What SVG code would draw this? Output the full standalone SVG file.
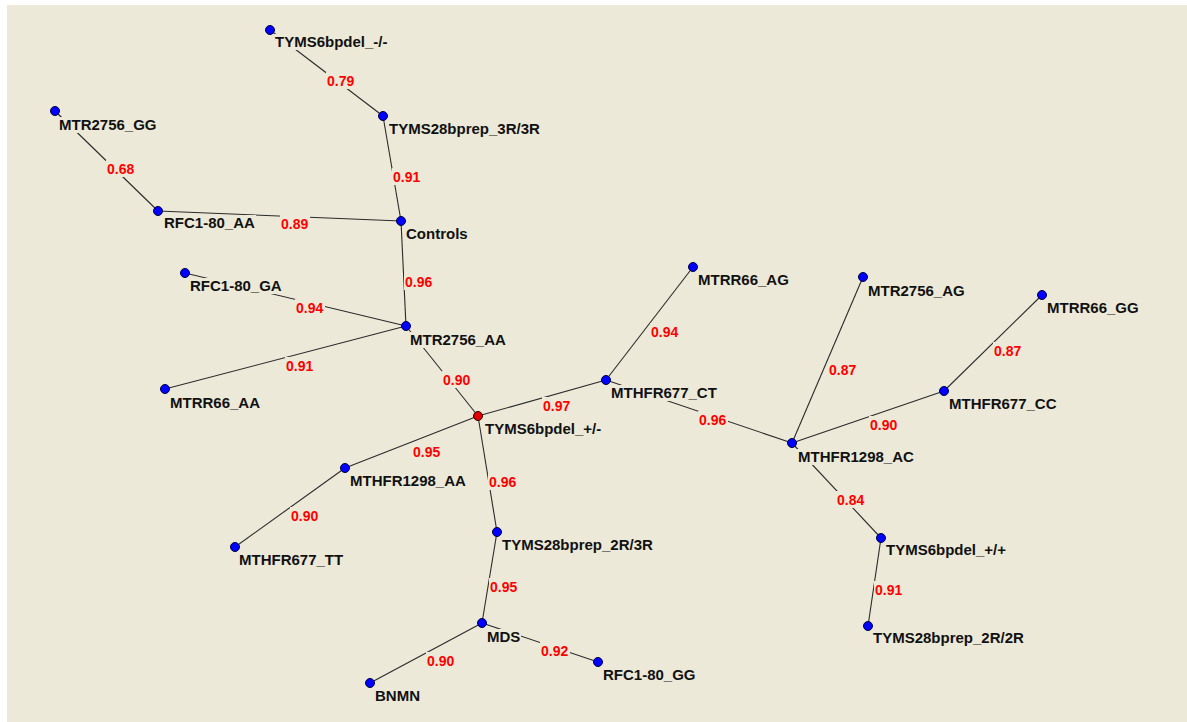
<svg xmlns="http://www.w3.org/2000/svg" width="1187" height="722" viewBox="0 0 1187 722">
<style>
.edge{stroke:#2a2a2a;stroke-width:1.1;fill:none}
.bg{fill:#ECE9D8}
.nd{fill:#0000FF;stroke:#00003c;stroke-width:1}
.ndr{fill:#E00000;stroke:#300000;stroke-width:1}
.lbl{font-family:"Liberation Sans",Arial,sans-serif;font-size:15px;font-weight:bold;fill:#111}
.w{font-family:"Liberation Sans",Arial,sans-serif;font-size:14px;font-weight:bold;fill:#FF0000}
</style>
<rect x="0" y="0" width="1187" height="722" fill="#FFFFFF"/>
<rect x="7" y="5" width="1180" height="717" class="bg"/>
<g id="connectors">
<line class="edge" x1="270" y1="30" x2="383" y2="116"/>
<line class="edge" x1="383" y1="116" x2="401" y2="221"/>
<line class="edge" x1="55" y1="111" x2="158" y2="211"/>
<line class="edge" x1="158" y1="211" x2="401" y2="221"/>
<line class="edge" x1="401" y1="221" x2="406" y2="326"/>
<line class="edge" x1="185" y1="273" x2="406" y2="326"/>
<line class="edge" x1="165" y1="389" x2="406" y2="326"/>
<line class="edge" x1="406" y1="326" x2="478" y2="416"/>
<line class="edge" x1="478" y1="416" x2="606" y2="380"/>
<line class="edge" x1="606" y1="380" x2="693" y2="267"/>
<line class="edge" x1="606" y1="380" x2="792" y2="443"/>
<line class="edge" x1="792" y1="443" x2="863" y2="277"/>
<line class="edge" x1="792" y1="443" x2="944" y2="391"/>
<line class="edge" x1="944" y1="391" x2="1042" y2="295"/>
<line class="edge" x1="792" y1="443" x2="881" y2="538"/>
<line class="edge" x1="881" y1="538" x2="868" y2="626"/>
<line class="edge" x1="478" y1="416" x2="345" y2="468"/>
<line class="edge" x1="345" y1="468" x2="235" y2="547"/>
<line class="edge" x1="478" y1="416" x2="497" y2="532"/>
<line class="edge" x1="497" y1="532" x2="482" y2="623"/>
<line class="edge" x1="482" y1="623" x2="370" y2="683"/>
<line class="edge" x1="482" y1="623" x2="598" y2="662"/>
<g id="edge-labels">
<rect class="bg" x="326" y="72" width="30" height="17"/><text class="w" x="327" y="86">0.79</text>
<rect class="bg" x="392" y="168" width="30" height="17"/><text class="w" x="393" y="182">0.91</text>
<rect class="bg" x="106" y="160" width="30" height="17"/><text class="w" x="107" y="174">0.68</text>
<rect class="bg" x="280" y="215" width="30" height="17"/><text class="w" x="281" y="229">0.89</text>
<rect class="bg" x="404" y="273" width="30" height="17"/><text class="w" x="405" y="287">0.96</text>
<rect class="bg" x="295" y="299" width="30" height="17"/><text class="w" x="296" y="313">0.94</text>
<rect class="bg" x="285" y="357" width="30" height="17"/><text class="w" x="286" y="371">0.91</text>
<rect class="bg" x="442" y="371" width="30" height="17"/><text class="w" x="443" y="385">0.90</text>
<rect class="bg" x="542" y="397" width="30" height="17"/><text class="w" x="543" y="411">0.97</text>
<rect class="bg" x="650" y="323" width="30" height="17"/><text class="w" x="651" y="337">0.94</text>
<rect class="bg" x="698" y="411" width="30" height="17"/><text class="w" x="699" y="425">0.96</text>
<rect class="bg" x="828" y="361" width="30" height="17"/><text class="w" x="829" y="375">0.87</text>
<rect class="bg" x="869" y="416" width="30" height="17"/><text class="w" x="870" y="430">0.90</text>
<rect class="bg" x="993" y="342" width="30" height="17"/><text class="w" x="994" y="356">0.87</text>
<rect class="bg" x="836" y="491" width="30" height="17"/><text class="w" x="837" y="505">0.84</text>
<rect class="bg" x="874" y="581" width="30" height="17"/><text class="w" x="875" y="595">0.91</text>
<rect class="bg" x="412" y="443" width="30" height="17"/><text class="w" x="413" y="457">0.95</text>
<rect class="bg" x="290" y="507" width="30" height="17"/><text class="w" x="291" y="521">0.90</text>
<rect class="bg" x="488" y="473" width="30" height="17"/><text class="w" x="489" y="487">0.96</text>
<rect class="bg" x="489" y="578" width="30" height="17"/><text class="w" x="490" y="592">0.95</text>
<rect class="bg" x="426" y="652" width="30" height="17"/><text class="w" x="427" y="666">0.90</text>
<rect class="bg" x="540" y="642" width="30" height="17"/><text class="w" x="541" y="656">0.92</text>
</g>
</g>
<g id="n_tyms6_mm"><rect class="bg" x="274" y="34" width="115" height="16"/><text class="lbl" x="275" y="47">TYMS6bpdel_-/-</text><circle class="nd" cx="270" cy="30" r="4.5"/></g>
<g id="n_tyms28_3r3r"><rect class="bg" x="388" y="121" width="154" height="16"/><text class="lbl" x="389" y="134">TYMS28bprep_3R/3R</text><circle class="nd" cx="383" cy="116" r="4.5"/></g>
<g id="n_mtr2756_gg"><rect class="bg" x="58" y="117" width="100" height="16"/><text class="lbl" x="59" y="130">MTR2756_GG</text><circle class="nd" cx="55" cy="111" r="4.5"/></g>
<g id="n_rfc1_aa"><rect class="bg" x="163" y="215" width="93" height="16"/><text class="lbl" x="164" y="228">RFC1-80_AA</text><circle class="nd" cx="158" cy="211" r="4.5"/></g>
<g id="n_controls"><rect class="bg" x="405" y="226" width="64" height="16"/><text class="lbl" x="406" y="239">Controls</text><circle class="nd" cx="401" cy="221" r="4.5"/></g>
<g id="n_rfc1_ga"><rect class="bg" x="189" y="278" width="93" height="16"/><text class="lbl" x="190" y="291">RFC1-80_GA</text><circle class="nd" cx="185" cy="273" r="4.5"/></g>
<g id="n_mtr2756_aa"><rect class="bg" x="409" y="332" width="98" height="16"/><text class="lbl" x="410" y="345">MTR2756_AA</text><circle class="nd" cx="406" cy="326" r="4.5"/></g>
<g id="n_mtrr66_aa"><rect class="bg" x="169" y="395" width="92" height="16"/><text class="lbl" x="170" y="408">MTRR66_AA</text><circle class="nd" cx="165" cy="389" r="4.5"/></g>
<g id="n_tyms6_pm"><rect class="bg" x="484" y="421" width="118" height="16"/><text class="lbl" x="485" y="434">TYMS6bpdel_+/-</text><circle class="ndr" cx="478" cy="416" r="4.5"/></g>
<g id="n_mthfr677_ct"><rect class="bg" x="610" y="385" width="109" height="16"/><text class="lbl" x="611" y="398">MTHFR677_CT</text><circle class="nd" cx="606" cy="380" r="4.5"/></g>
<g id="n_mtrr66_ag"><rect class="bg" x="697" y="272" width="93" height="16"/><text class="lbl" x="698" y="285">MTRR66_AG</text><circle class="nd" cx="693" cy="267" r="4.5"/></g>
<g id="n_mthfr1298_aa"><rect class="bg" x="349" y="473" width="118" height="16"/><text class="lbl" x="350" y="486">MTHFR1298_AA</text><circle class="nd" cx="345" cy="468" r="4.5"/></g>
<g id="n_mthfr677_tt"><rect class="bg" x="238" y="552" width="108" height="16"/><text class="lbl" x="239" y="565">MTHFR677_TT</text><circle class="nd" cx="235" cy="547" r="4.5"/></g>
<g id="n_tyms28_2r3r"><rect class="bg" x="501" y="537" width="156" height="16"/><text class="lbl" x="502" y="550">TYMS28bprep_2R/3R</text><circle class="nd" cx="497" cy="532" r="4.5"/></g>
<g id="n_mds"><rect class="bg" x="486" y="629" width="35" height="16"/><text class="lbl" x="487" y="642">MDS</text><circle class="nd" cx="482" cy="623" r="4.5"/></g>
<g id="n_bnmn"><rect class="bg" x="374" y="688" width="47" height="16"/><text class="lbl" x="375" y="701">BNMN</text><circle class="nd" cx="370" cy="683" r="4.5"/></g>
<g id="n_rfc1_gg"><rect class="bg" x="602" y="667" width="93" height="16"/><text class="lbl" x="603" y="680">RFC1-80_GG</text><circle class="nd" cx="598" cy="662" r="4.5"/></g>
<g id="n_mthfr1298_ac"><rect class="bg" x="797" y="449" width="118" height="16"/><text class="lbl" x="798" y="462">MTHFR1298_AC</text><circle class="nd" cx="792" cy="443" r="4.5"/></g>
<g id="n_mtr2756_ag"><rect class="bg" x="867" y="283" width="98" height="16"/><text class="lbl" x="868" y="296">MTR2756_AG</text><circle class="nd" cx="863" cy="277" r="4.5"/></g>
<g id="n_mthfr677_cc"><rect class="bg" x="948" y="396" width="110" height="16"/><text class="lbl" x="949" y="409">MTHFR677_CC</text><circle class="nd" cx="944" cy="391" r="4.5"/></g>
<g id="n_mtrr66_gg"><rect class="bg" x="1046" y="300" width="94" height="16"/><text class="lbl" x="1047" y="313">MTRR66_GG</text><circle class="nd" cx="1042" cy="295" r="4.5"/></g>
<g id="n_tyms6_pp"><rect class="bg" x="885" y="542" width="123" height="16"/><text class="lbl" x="886" y="555">TYMS6bpdel_+/+</text><circle class="nd" cx="881" cy="538" r="4.5"/></g>
<g id="n_tyms28_2r2r"><rect class="bg" x="872" y="630" width="156" height="16"/><text class="lbl" x="873" y="643">TYMS28bprep_2R/2R</text><circle class="nd" cx="868" cy="626" r="4.5"/></g>
</svg>
